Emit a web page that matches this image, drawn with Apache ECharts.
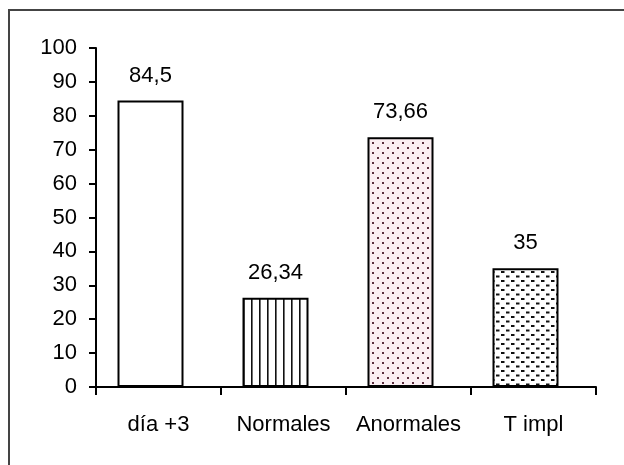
<!DOCTYPE html>
<html>
<head>
<meta charset="utf-8">
<script src="https://cdn.jsdelivr.net/npm/echarts@6/dist/echarts.min.js"></script>
<style>
  html, body { margin: 0; padding: 0; background: #fff; }
  #chart { width: 624px; height: 465px; }
</style>
</head>
<body>
<div id="chart"></div>
<script>
// Chart data
const categories = ['día +3', 'Normales', 'Anormales', 'T impl'];
const values = [84.5, 26.34, 73.66, 35];
const yTicks = [0, 10, 20, 30, 40, 50, 60, 70, 80, 90, 100];

// Fill patterns drawn on small canvases
function makeCanvas(w, h, draw) {
  const c = document.createElement('canvas');
  c.width = w; c.height = h;
  const ctx = c.getContext('2d');
  ctx.fillStyle = '#ffffff';
  ctx.fillRect(0, 0, w, h);
  draw(ctx);
  return c;
}
const stripes = makeCanvas(8, 8, ctx => {
  ctx.fillStyle = '#111';
  ctx.fillRect(3, 0, 1.6, 8);
});
const dots = makeCanvas(10, 10, ctx => {
  ctx.fillStyle = '#fbeef2';
  ctx.fillRect(0, 0, 10, 10);
  ctx.fillStyle = '#5a2c3c';
  ctx.fillRect(2, 2, 2, 2);
  ctx.fillRect(7, 7, 2, 2);
});
const dashes = makeCanvas(10, 9, ctx => {
  ctx.fillStyle = '#111';
  ctx.fillRect(1, 1, 3.5, 2);
  ctx.fillRect(6, 5.5, 3.5, 2);
});
const fills = [
  '#ffffff',
  { image: stripes, repeat: 'repeat' },
  { image: dots, repeat: 'repeat' },
  { image: dashes, repeat: 'repeat' }
];

const font = 'Liberation Sans, Arial, sans-serif';
const chart = echarts.init(document.getElementById('chart'), null, { renderer: 'canvas' });

chart.setOption({
  animation: false,
  backgroundColor: '#ffffff',
  grid: { left: 96, top: 48, right: 28, bottom: 78, containLabel: false },
  xAxis: {
    type: 'category',
    data: categories,
    boundaryGap: true,
    axisLine: { lineStyle: { color: '#000', width: 2 } },
    axisTick: { show: true, interval: 0, length: 8, lineStyle: { color: '#000', width: 2 } },
    axisLabel: { color: '#000', fontFamily: font, fontSize: 22, margin: 27, interval: 0 }
  },
  yAxis: {
    type: 'value',
    min: yTicks[0],
    max: yTicks[yTicks.length - 1],
    interval: yTicks[1] - yTicks[0],
    axisLine: { show: true, lineStyle: { color: '#000', width: 2 } },
    axisTick: { show: true, length: 7, lineStyle: { color: '#000', width: 2 } },
    splitLine: { show: false },
    axisLabel: { color: '#000', fontFamily: font, fontSize: 22, margin: 19 }
  },
  series: [
    {
      type: 'bar',
      barWidth: 66,
      barGap: '0%',
      data: values.map((v, i) => ({
        value: v,
        itemStyle: { color: fills[i], borderColor: '#000', borderWidth: 2 }
      })),
      label: {
        show: true,
        position: 'top',
        distance: 14,
        color: '#000',
        fontFamily: font,
        fontSize: 22,
        formatter: p => String(p.value).replace('.', ',')
      }
    },
    {
      // empty companion series: keeps the bars left of each category centre
      type: 'bar',
      barWidth: 16,
      barGap: '0%',
      silent: true,
      data: categories.map(() => '-')
    }
  ],
  graphic: [
    {
      type: 'polyline',
      shape: { points: [[9, 465], [9, 10], [624, 10]] },
      style: { stroke: '#444', lineWidth: 2, fill: null }
    }
  ]
});
</script>
</body>
</html>
